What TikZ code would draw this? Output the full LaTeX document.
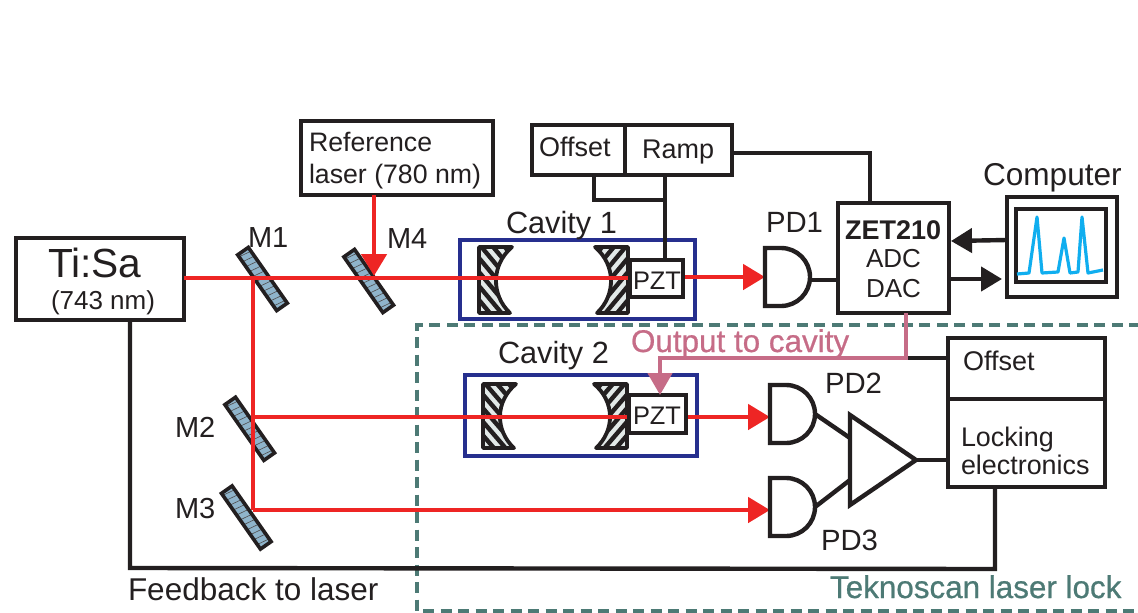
\documentclass[tikz,border=0pt]{standalone}
\usepackage{fontspec}
\setmainfont{Liberation Sans}
\newfontfamily\heavyfont[FakeBold=0.7]{Liberation Sans}
\usetikzlibrary{arrows.meta}
\definecolor{ink}{HTML}{231F20}
\definecolor{beam}{HTML}{EE2524}
\definecolor{cavblue}{HTML}{262F8E}
\definecolor{pinkline}{HTML}{C66C87}
\definecolor{tealline}{HTML}{4D7A75}
\definecolor{mirrorblue}{HTML}{8FB4CB}
\definecolor{hatchgrey}{HTML}{E2E9E8}
\definecolor{scope}{HTML}{10AEEF}
\newcommand{\fs}[1]{\fontsize{#1}{#1}\selectfont}
\newcommand{\pdshape}[1]{\draw[wire,fill=white,line join=miter] (#1.north west) -- ++(16,0) arc[start angle=-90,end angle=90,radius=29] -- (#1.south west) -- cycle;}
\tikzset{
  x=1pt,y=-1pt,
  wire/.style={draw=ink,line width=4.4pt},
  boxn/.style={draw=ink,line width=4.6pt,fill=white,rectangle,inner sep=0pt,outer sep=0pt},
  cavbox/.style={draw=cavblue,line width=4.4pt,rectangle,inner sep=0pt,outer sep=0pt},
  pdbox/.style={rectangle,inner sep=0pt,outer sep=0pt,minimum width=45pt,minimum height=58pt},
  rayline/.style={draw=beam,line width=4.8pt},
  rayarrow/.style={rayline,-{Triangle[length=22pt,width=25pt]}},
  blackarrow/.style={wire,-{Triangle[length=21pt,width=24pt]}},
  lbl/.style={inner sep=0pt,outer sep=0pt,anchor=base west,text=ink},
  mirrorn/.style={draw=ink,line width=3.6pt,fill=mirrorblue,rectangle,rotate=-55,minimum width=68pt,minimum height=13pt,inner sep=0pt,
    path picture={\foreach \d in {-32,-26,...,32}{\draw[ink!80,line width=.6pt] (\d,9)--(\d+3,-9);}}},
  cavmirror/.pic={
    \path[fill=hatchgrey] (0,-33) -- (33,-33) .. controls (12,-15) and (12,15) .. (31,33) -- (0,33) -- cycle;
    \begin{scope}
      \clip (0,-33) -- (33,-33) .. controls (12,-15) and (12,15) .. (31,33) -- (0,33) -- cycle;
      \foreach \s in {-84,-70,...,36}{\draw[ink,line width=4.4pt] (-5,\s) -- (40,\s+54);}
    \end{scope}
    \draw[ink,line width=3.8pt,line join=round] (0,-33) -- (33,-33) .. controls (12,-15) and (12,15) .. (31,33) -- (0,33) -- cycle;
  }
}
\begin{document}
\begin{tikzpicture}
\useasboundingbox (0,0) rectangle (1138,613);
% lock region
\draw[draw=tealline,line width=3.8pt,dash pattern=on 11pt off 6.5pt] (1140,325) -- (417,325) -- (417,611) -- (1140,611);
% feedback
\node[boxn,minimum width=168pt,minimum height=82pt] (TiSa) at (100,279) {};
\node[boxn,minimum width=157pt,minimum height=61pt] (LockOff) at (1026.5,368.5) {};
\node[boxn,minimum width=157pt,minimum height=88pt] (Lock) at (1026.5,443) {};
\coordinate (fbL) at (130,568);
\coordinate (fbR) at (995,569);
\draw[wire] (TiSa.south -| fbL) -- (fbL) -- (fbR) -- (fbR |- Lock.south);
% cavities
\node[cavbox,minimum width=235pt,minimum height=79pt] (Cav1) at (577.5,279.5) {};
\node[cavbox,minimum width=232pt,minimum height=81pt] (Cav2) at (581,415.5) {};
\pic at (479,280) {cavmirror};
\pic[xscale=-1] at (628,280) {cavmirror};
\pic[yscale=.97] at (483,416) {cavmirror};
\pic[xscale=-1,yscale=.97] at (627,416) {cavmirror};
% mirrors
\node[mirrorn] (M1) at (262.5,279) {};
\node[mirrorn] (M4) at (368.7,281) {};
\node[mirrorn] (M2) at (249.7,428.8) {};
\node[mirrorn] (M3) at (246.3,517.5) {};
% boxes
\node[boxn,minimum width=192pt,minimum height=74pt] (Ref) at (397,158) {};
\node[boxn,minimum width=93pt,minimum height=50pt] (Off) at (578.5,150) {};
\node[boxn,minimum width=107pt,minimum height=50pt] (Ramp) at (678.5,150) {};
\node[boxn,minimum width=111pt,minimum height=110pt] (ZET) at (893.5,258) {};
\node[boxn,minimum width=110pt,minimum height=100pt] (Comp) at (1062,247) {};
\node[boxn,minimum width=90pt,minimum height=73pt] (Screen) at (1061,245.5) {};
\node[pdbox] (PD1) at (787.5,277) {};
\node[pdbox] (PD2) at (792.5,414) {};
\node[pdbox] (PD3) at (792.5,507) {};
% beams
\coordinate (J1) at (253,278);
\coordinate (J2) at (253,417);
\coordinate (J3) at (253,510);
\coordinate (J4) at (374,276);
\draw[rayline] (TiSa.east |- J1) -- (630,278);
\draw[rayline] (J1) -- (J3);
\draw[rayarrow] (J2) -- (PD2.west |- J2);
\draw[rayarrow] (J3) -- (PD3.west |- J3);
\draw[rayarrow] (J4 |- Ref.south) -- (J4);
\draw[rayarrow] (660,277) -- (PD1.west);
% PZT
\node[boxn,minimum width=53pt,minimum height=37pt] (PZT1) at (656.5,278.5) {};
\node[boxn,minimum width=57pt,minimum height=38pt] (PZT2) at (657.5,414) {};
% detectors and amplifier
\pdshape{PD1}
\pdshape{PD2}
\pdshape{PD3}
\coordinate (ampT) at (850,415);
\coordinate (ampB) at (850,505);
\coordinate (ampO) at (916,460);
\coordinate (ampI1) at (850,438);
\coordinate (ampI2) at (850,480);
\draw[wire] (PD2.east) -- (ampI1);
\draw[wire] (PD3.east) -- (ampI2);
\draw[wire,fill=white,line join=miter] (ampT) -- (ampO) -- (ampB) -- cycle;
\draw[wire] (ampO) -- (Lock.west |- ampO);
% electronics wiring
\coordinate (z1) at (838,280);
\draw[wire] (PD1.east |- z1) -- (z1);
\coordinate (rampR) at (870,153);
\draw[wire] (Ramp.east |- rampR) -- (rampR) -- (rampR |- ZET.north);
\coordinate (offD) at (594,200);
\coordinate (pztD) at (665,200);
\draw[wire] (Off.south -| offD) -- (offD) -- (pztD);
\draw[wire] (Ramp.south -| pztD) -- (PZT1.north -| pztD);
\coordinate (zUp) at (1005,240);
\coordinate (zUpE) at (951,241);
\draw[blackarrow] (Comp.west |- zUp) -- (zUpE);
\coordinate (zDn) at (1002,279);
\draw[blackarrow] (ZET.east |- zDn) -- (zDn);
\coordinate (outK) at (906,358);
\coordinate (outL) at (660,358);
\draw[wire] (outK) -- (LockOff.west |- outK);
\draw[draw=pinkline,line width=4.4pt,-{Triangle[length=22pt,width=24pt]}] (ZET.south -| outK) -- (outK) -- (outL) -- (outL |- PZT2.north);
% spectrum
\draw[draw=scope,line width=3.2pt,line join=round] (1017,274) -- (1029,273) -- (1037,217) -- (1042,273) -- (1058,272) -- (1064,238) -- (1070,273) -- (1078,272) -- (1082,217) -- (1088,273) -- (1103,270);
% labels
\node[lbl,font=\fs{40.7}] (tTi) at (48,277) {Ti:Sa};
\node[lbl,font=\fs{26}] (tTi2) at (51,309) {(743 nm)};
\node[lbl,font=\fs{26.7}] (tRef1) at (309,151) {Reference};
\node[lbl,font=\fs{26.7}] (tRef2) at (309,183) {laser (780 nm)};
\node[lbl,font=\fs{27}] (tOff) at (539,156) {Offset};
\node[lbl,font=\fs{27}] (tRamp) at (642,158) {Ramp};
\node[lbl,font=\fs{30.7}] (tCav1) at (506,233) {Cavity 1};
\node[lbl,font=\fs{30.7}] (tCav2) at (498,363) {Cavity 2};
\node[lbl,font=\fs{25.4}] (tP1) at (633,289) {PZT};
\node[lbl,font=\fs{25.4}] (tP2) at (633,424) {PZT};
\node[lbl,font=\fs{29.3}] (tPD1) at (766,232) {PD1};
\node[lbl,font=\fs{29.3}] (tPD2) at (825,393) {PD2};
\node[lbl,font=\fs{29.3}] (tPD3) at (821,550) {PD3};
\node[lbl,font=\fs{29}] (tM1) at (248,247) {M1};
\node[lbl,font=\fs{29}] (tM4) at (387,248) {M4};
\node[lbl,font=\fs{29}] (tM2) at (175,437) {M2};
\node[lbl,font=\fs{29}] (tM3) at (175,518) {M3};
\node[lbl,font=\fs{27}\bfseries] (tZ) at (845,239) {ZET210};
\node[lbl,font=\fs{26}] (tA) at (866,267) {ADC};
\node[lbl,font=\fs{26}] (tD) at (866,297) {DAC};
\node[lbl,font=\fs{31.6}] (tC) at (983,185) {Computer};
\node[lbl,font=\fs{27}] (tO2) at (963,370) {Offset};
\node[lbl,font=\fs{26.9}] (tL1) at (961,446) {Locking};
\node[lbl,font=\fs{26.9}] (tL2) at (961,474) {electronics};
\node[lbl,font=\fs{31.5}] (tF) at (128,600) {Feedback to laser};
\node[lbl,font=\fs{31.4}\heavyfont,text=pinkline] (tOut) at (631,352) {Output to cavity};
\node[lbl,font=\fs{31.4}\heavyfont,text=tealline] (tT) at (830,598) {Teknoscan laser lock};
\end{tikzpicture}
\end{document}
